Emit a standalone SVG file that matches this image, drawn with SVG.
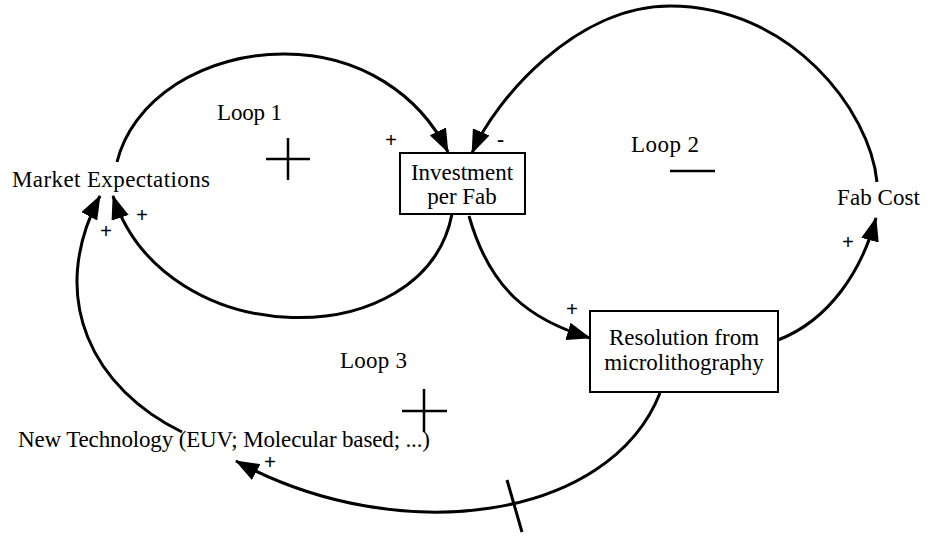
<svg xmlns="http://www.w3.org/2000/svg" width="930" height="545" viewBox="0 0 930 545">
<style>
text{font-family:"Liberation Serif","Times New Roman",serif;fill:#000}
.lbl{font-size:23px}
.pol{font-size:21px;font-weight:bold}
.box{fill:#fff;stroke:#000;stroke-width:2}
.link{fill:none;stroke:#000;stroke-width:3}
.sign{stroke:#000;stroke-width:2.5;fill:none}
</style>
<defs>
<marker id="ah" markerUnits="userSpaceOnUse" viewBox="0 0 24 18" refX="23" refY="9" markerWidth="24" markerHeight="18" orient="auto">
<path d="M0,0 L24,9 L0,18 z" fill="#000"/>
</marker>
</defs>
<g id="connectors">
<path class="link" d="M117,162 A170,133 0 0 1 285,54 C360,54 420,95 448,152" marker-end="url(#ah)"/>
<path class="link" d="M877,182 C870,110 790,6 670,6 C575,6 495,100 472,153" marker-end="url(#ah)"/>
<path class="link" d="M452,214 C425,355 165,355 113,196" marker-end="url(#ah)"/>
<path class="link" d="M469,216 C490,290 530,320 590,338" marker-end="url(#ah)"/>
<path class="link" d="M778,340 C830,320 862,270 876,218" marker-end="url(#ah)"/>
<path class="link" d="M182,432 C95,390 45,300 100,196" marker-end="url(#ah)"/>
<path class="link" d="M660,393 C610,520 400,550 236,461" marker-end="url(#ah)"/>
<line class="link" x1="507" y1="480" x2="522" y2="532"/>
</g>
<g id="loop1">
<text class="lbl" x="217" y="120" textLength="65">Loop 1</text>
<path class="sign" d="M266,159 H310 M288,138 V180"/>
</g>
<g id="loop2">
<text class="lbl" x="631" y="152" textLength="68">Loop 2</text>
<path class="sign" d="M670,171 H715" stroke-width="3"/>
</g>
<g id="loop3">
<text class="lbl" x="340" y="368" textLength="67">Loop 3</text>
<path class="sign" d="M402,411 H447 M424,389 V432"/>
</g>
<g id="market-expectations">
<text class="lbl" x="12" y="187" textLength="198">Market Expectations</text>
</g>
<g id="investment-per-fab">
<rect class="box" x="400" y="153" width="125" height="61"/>
<text class="lbl" x="462" y="180" text-anchor="middle">Investment</text>
<text class="lbl" x="462" y="204" text-anchor="middle">per Fab</text>
</g>
<g id="fab-cost">
<text class="lbl" x="837" y="205" textLength="83">Fab Cost</text>
</g>
<g id="resolution">
<rect class="box" x="590" y="311" width="188" height="81"/>
<text class="lbl" x="684" y="345" text-anchor="middle">Resolution from</text>
<text class="lbl" x="684" y="370" text-anchor="middle">microlithography</text>
</g>
<g id="new-technology">
<text class="lbl" x="18" y="447" textLength="412">New Technology (EUV; Molecular based; ...)</text>
</g>
<g id="polarities">
<text class="pol" x="385" y="147">+</text>
<text class="pol" x="497" y="146">-</text>
<text class="pol" x="100" y="238">+</text>
<text class="pol" x="136" y="222">+</text>
<text class="pol" x="842" y="249">+</text>
<text class="pol" x="566" y="316">+</text>
<text class="pol" x="264" y="469">+</text>
</g>
</svg>
